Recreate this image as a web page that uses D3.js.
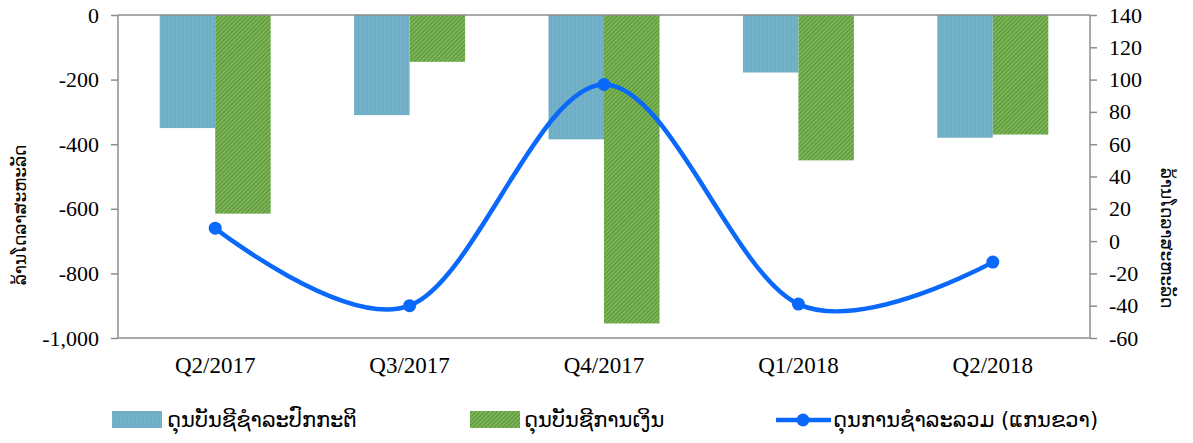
<!DOCTYPE html>
<html>
<head>
<meta charset="utf-8">
<script src="https://cdn.jsdelivr.net/npm/d3@7"></script>
<style>
  body { margin: 0; background: #fff; }
  .tick text { font-family: "Liberation Serif", "Times New Roman", serif; font-size: 22px; fill: #000; }
  .lao { font-family: "DejaVu Sans", "Noto Sans", sans-serif; fill: #000; }
</style>
</head>
<body>
<div id="chart"></div>
<script>
// quarters on the x axis
var quarters = ["Q2/2017", "Q3/2017", "Q4/2017", "Q1/2018", "Q2/2018"];
// current account balance (left axis)
var current_acct = [-350, -310, -385, -178, -380];
// financial account balance (left axis)
var financial_acct = [-615, -145, -955, -450, -370];
// overall balance (right axis)
var overall = [8, -40, 97, -39, -13];

var left_ticks = [0, -200, -400, -600, -800, -1000];
var right_ticks = [140, 120, 100, 80, 60, 40, 20, 0, -20, -40, -60];

var series_names = ["ດຸນບັນຊີຊໍາລະປົກກະຕິ", "ດຸນບັນຊີການເງິນ", "ດຸນການຊໍາລະລວມ (ແກນຂວາ)"];
var axis_title = "ລ້ານໂດລາສະຫະລັດ";

var width = 1193;
var height = 443;
var margin = {top: 15, right: 103, bottom: 105, left: 118};
var blue = "#6eaec6";
var green = "#74ae50";
var line_col = "#0a68fa";

var svg = d3.select('#chart')
  .append('svg')
  .attr('width', width)
  .attr('height', height);

// patterns: faint vertical stripes on blue, dense diagonal hatch on green
var defs = svg.append('defs');
var pb = defs.append('pattern').attr('id', 'pat_blue')
  .attr('patternUnits', 'userSpaceOnUse').attr('width', 4).attr('height', 4);
pb.append('rect').attr('width', 4).attr('height', 4).attr('fill', blue);
pb.append('rect').attr('x', 0).attr('width', 1).attr('height', 4).attr('fill', '#76b3c9');

var pg = defs.append('pattern').attr('id', 'pat_green')
  .attr('patternUnits', 'userSpaceOnUse').attr('width', 3).attr('height', 3)
  .attr('patternTransform', 'rotate(45)');
pg.append('rect').attr('width', 3).attr('height', 3).attr('fill', '#80b85c');
pg.append('rect').attr('width', 1.2).attr('height', 3).attr('fill', '#5a9436');

var shadow = defs.append('filter').attr('id', 'shadow').attr('y', '-200%').attr('height', '500%');
shadow.append('feGaussianBlur').attr('stdDeviation', 1.5);

var x0 = margin.left;
var x1 = width - margin.right;
var y0 = margin.top;

var x = d3.scaleBand().domain(quarters).range([x0, x1]);
var yL = d3.scaleLinear().domain([-1000, 0]).range([338, y0]);
var yR = d3.scaleLinear().domain([-60, 140]).range([338, y0]);

var barW = 55.5;
// Excel style numbers: plain hyphen for negatives
var fmtL = function(d) { return d3.format(',')(d).replace('\u2212', '-'); };
var fmtR = function(d) { return d3.format('d')(d).replace('\u2212', '-'); };

// bottom line shadow
svg.append('line')
  .attr('x1', x0 - 2).attr('x2', x1 + 2)
  .attr('y1', yL(-1000) + 3).attr('y2', yL(-1000) + 3)
  .attr('stroke', '#999').attr('stroke-width', 3).attr('filter', 'url(#shadow)');

// bars
svg.append('g').selectAll('rect')
  .data(current_acct)
  .enter().append('rect')
    .attr('x', function(d, i) { return x(quarters[i]) + x.bandwidth() / 2 - barW; })
    .attr('y', yL(0))
    .attr('width', barW)
    .attr('height', function(d) { return yL(d) - yL(0); })
    .attr('fill', 'url(#pat_blue)');

svg.append('g').selectAll('rect')
  .data(financial_acct)
  .enter().append('rect')
    .attr('x', function(d, i) { return x(quarters[i]) + x.bandwidth() / 2; })
    .attr('y', yL(0))
    .attr('width', barW)
    .attr('height', function(d) { return yL(d) - yL(0); })
    .attr('fill', 'url(#pat_green)');

// axes
var axisL = svg.append('g')
  .attr('transform', 'translate(' + x0 + ',0)')
  .call(d3.axisLeft(yL).tickValues(left_ticks).tickSize(7).tickPadding(12).tickFormat(fmtL));
var axisR = svg.append('g')
  .attr('transform', 'translate(' + x1 + ',0)')
  .call(d3.axisRight(yR).tickValues(right_ticks).tickSize(7).tickPadding(12).tickFormat(fmtR));
[axisL, axisR].forEach(function(a) {
  a.select('.domain').attr('stroke', '#8c8c8c').attr('stroke-width', 1.5);
  a.selectAll('.tick line').attr('stroke', '#8c8c8c').attr('stroke-width', 1.5);
  a.selectAll('.tick text').attr('dy', '0.32em');
});
axisL.select('.domain').attr('d', 'M0,' + yL(0) + 'V' + yL(-1000));
axisR.select('.domain').attr('d', 'M0,' + yR(140) + 'V' + yR(-60));

// category axis at zero and bottom border
svg.append('line')
  .attr('x1', x0).attr('x2', x1).attr('y1', yL(0)).attr('y2', yL(0))
  .attr('stroke', '#8c8c8c').attr('stroke-width', 1.5);
svg.append('line')
  .attr('x1', x0).attr('x2', x1).attr('y1', yL(-1000)).attr('y2', yL(-1000))
  .attr('stroke', '#8c8c8c').attr('stroke-width', 1.5);

// category labels
svg.append('g').selectAll('text')
  .data(quarters)
  .enter().append('text')
    .attr('x', function(d) { return x(d) + x.bandwidth() / 2; })
    .attr('y', 373)
    .attr('text-anchor', 'middle')
    .style('font-family', '"Liberation Serif", "Times New Roman", serif')
    .style('font-size', '23px')
    .text(function(d) { return d; });

// overall balance line
var line = d3.line()
  .x(function(d, i) { return x(quarters[i]) + x.bandwidth() / 2; })
  .y(function(d) { return yR(d); })
  .curve(d3.curveCatmullRom.alpha(0));

svg.append('path')
  .datum(overall)
  .attr('d', line)
  .attr('fill', 'none')
  .attr('stroke', line_col)
  .attr('stroke-width', 4.5);

svg.append('g').selectAll('circle')
  .data(overall)
  .enter().append('circle')
    .attr('cx', function(d, i) { return x(quarters[i]) + x.bandwidth() / 2; })
    .attr('cy', function(d) { return yR(d); })
    .attr('r', 6.5)
    .attr('fill', line_col);

// axis titles
svg.append('text')
  .attr('class', 'lao')
  .style('font-size', '17px')
  .attr('transform', 'translate(26,215) rotate(-90)')
  .attr('text-anchor', 'middle')
  .text(axis_title);
svg.append('text')
  .attr('class', 'lao')
  .style('font-size', '17px')
  .attr('transform', 'translate(1161,238) rotate(90)')
  .attr('text-anchor', 'middle')
  .text(axis_title);

// legend
var leg = svg.append('g').style('font-size', '21px');
leg.append('rect').attr('x', 112).attr('y', 411).attr('width', 50).attr('height', 17).attr('fill', 'url(#pat_blue)');
leg.append('text').attr('class', 'lao').attr('x', 167).attr('y', 427).text(series_names[0]);
leg.append('rect').attr('x', 470).attr('y', 411).attr('width', 50).attr('height', 17).attr('fill', 'url(#pat_green)');
leg.append('text').attr('class', 'lao').attr('x', 524).attr('y', 427).text(series_names[1]);
leg.append('line').attr('x1', 776).attr('x2', 831).attr('y1', 420).attr('y2', 420)
  .attr('stroke', line_col).attr('stroke-width', 4.5);
leg.append('circle').attr('cx', 803).attr('cy', 420).attr('r', 6.5).attr('fill', line_col);
leg.append('text').attr('class', 'lao').attr('x', 833).attr('y', 427).text(series_names[2]);
</script>
</body>
</html>
